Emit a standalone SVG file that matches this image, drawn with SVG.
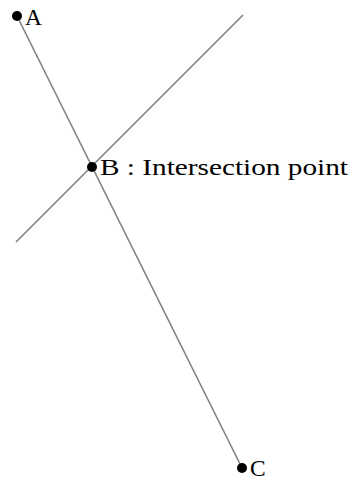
<svg xmlns="http://www.w3.org/2000/svg" width="350" height="481" viewBox="0 0 350 481">
<style>
.ln{stroke:#808080;stroke-width:1.6;fill:none}
.pt{fill:#000}
.lb{font-family:"Liberation Serif","DejaVu Serif",serif;font-size:23.5px;fill:#000}
</style>
<rect width="350" height="481" fill="#fff"/>
<g id="connectors">
<line class="ln" x1="17" y1="16" x2="242" y2="468"/>
<line class="ln" x1="16" y1="242" x2="243" y2="15"/>
</g>
<g id="A"><circle class="pt" cx="17" cy="16" r="5"/><text class="lb" x="25" y="25">A</text></g>
<g id="B"><circle class="pt" cx="92" cy="167" r="5"/><text class="lb" x="100" y="175" textLength="248" lengthAdjust="spacingAndGlyphs">B : Intersection point</text></g>
<g id="C"><circle class="pt" cx="242" cy="468" r="5"/><text class="lb" x="250" y="476">C</text></g>
</svg>
